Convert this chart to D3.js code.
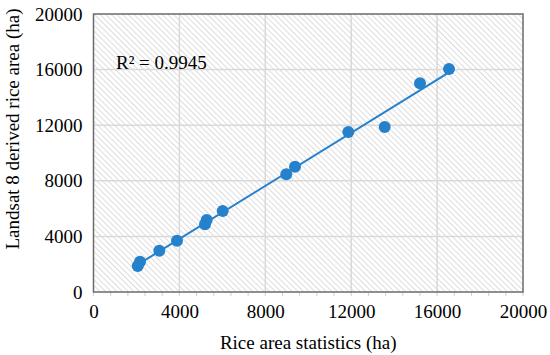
<!DOCTYPE html>
<html>
<head>
<meta charset="utf-8">
<script src="https://cdn.jsdelivr.net/npm/d3@7"></script>
<style>
  body { margin: 0; background: #fff; }
  svg text { font-family: "Liberation Serif", "Times New Roman", serif; fill: #000; }
</style>
</head>
<body>
<div id="main"></div>
<script>
// rice area statistics (ha) vs Landsat 8 derived rice area (ha)
const statArea = [2060, 2165, 3064, 3888, 5192, 5271, 6016, 8978, 9383, 11866, 13560, 15204, 16554];
const landsatArea = [1870, 2180, 2971, 3691, 4870, 5180, 5827, 8468, 9014, 11511, 11871, 15014, 16043];
const xTicks = [0, 4000, 8000, 12000, 16000, 20000];
const yTicks = [0, 4000, 8000, 12000, 16000, 20000];
const r2Label = "R² = 0.9945";

const width = 550;
const height = 355;
const margin = { top: 14, right: 27, bottom: 63, left: 93.5 };
const blue = "#2681cc";
const serif = "Liberation Serif, Times New Roman, serif";

const svg = d3.select("#main")
  .append("svg")
  .attr("width", width)
  .attr("height", height);

const x = d3.scaleLinear()
  .domain([0, 20000])
  .range([margin.left, width - margin.right]);

const y = d3.scaleLinear()
  .domain([0, 20000])
  .range([height - margin.bottom, margin.top]);

// hatch fill for the plot area
const pattern = svg.append("defs")
  .append("pattern")
  .attr("id", "hatch")
  .attr("patternUnits", "userSpaceOnUse")
  .attr("width", 4)
  .attr("height", 4)
  .attr("patternTransform", "rotate(-45)");

pattern.append("rect")
  .attr("width", 4)
  .attr("height", 4)
  .attr("fill", "#fff");

pattern.append("line")
  .attr("x1", 0).attr("y1", 0)
  .attr("x2", 0).attr("y2", 4)
  .attr("stroke", "#c6c6c6")
  .attr("stroke-width", 1.2);

svg.append("rect")
  .attr("x", x(0))
  .attr("y", y(20000))
  .attr("width", x(20000) - x(0))
  .attr("height", y(0) - y(20000))
  .attr("fill", "url(#hatch)");

// grid
svg.append("g")
  .selectAll("line")
  .data(xTicks.slice(1, -1))
  .enter()
  .append("line")
  .attr("x1", d => x(d)).attr("x2", d => x(d))
  .attr("y1", y(0)).attr("y2", y(20000))
  .attr("stroke", "#d9d9d9")
  .attr("stroke-width", 1.5);

svg.append("g")
  .selectAll("line")
  .data(yTicks.slice(1, -1))
  .enter()
  .append("line")
  .attr("x1", x(0)).attr("x2", x(20000))
  .attr("y1", d => y(d)).attr("y2", d => y(d))
  .attr("stroke", "#d9d9d9")
  .attr("stroke-width", 1.5);

// minor ticks below x axis
svg.append("g")
  .selectAll("line")
  .data(d3.range(0, 20001, 800))
  .enter()
  .append("line")
  .attr("x1", d => x(d)).attr("x2", d => x(d))
  .attr("y1", y(0)).attr("y2", y(0) + 4)
  .attr("stroke", "#d0d0d0");

// border
svg.append("rect")
  .attr("x", x(0))
  .attr("y", y(20000))
  .attr("width", x(20000) - x(0))
  .attr("height", y(0) - y(20000))
  .attr("fill", "none")
  .attr("stroke", "#6b6b6b")
  .attr("stroke-width", 1.5);

// axes labels
const xAxis = d3.axisBottom(x)
  .tickValues(xTicks)
  .tickSize(0)
  .tickPadding(13)
  .tickFormat(d3.format("d"));

const yAxis = d3.axisLeft(y)
  .tickValues(yTicks)
  .tickSize(0)
  .tickPadding(11)
  .tickFormat(d3.format("d"));

svg.append("g")
  .attr("transform", "translate(0," + y(0) + ")")
  .call(xAxis)
  .attr("font-family", serif)
  .attr("font-size", 19)
  .call(g => g.select(".domain").remove());

svg.append("g")
  .attr("transform", "translate(" + x(0) + ",0)")
  .call(yAxis)
  .attr("font-family", serif)
  .attr("font-size", 19)
  .call(g => g.select(".domain").remove());

svg.append("text")
  .attr("x", (x(0) + x(20000)) / 2)
  .attr("y", 349)
  .attr("text-anchor", "middle")
  .style("font-size", "19px")
  .text("Rice area statistics (ha)");

svg.append("text")
  .attr("transform", "translate(19," + 129 + ") rotate(-90)")
  .attr("text-anchor", "middle")
  .style("font-size", "19px")
  .text("Landsat 8 derived rice area (ha)");

// linear trend
const mx = d3.mean(statArea);
const my = d3.mean(landsatArea);
const slope = d3.sum(statArea, (v, i) => (v - mx) * (landsatArea[i] - my)) /
  d3.sum(statArea, v => (v - mx) * (v - mx));
const intercept = my - slope * mx;
const xExt = d3.extent(statArea);

svg.append("line")
  .attr("x1", x(xExt[0]))
  .attr("y1", y(slope * xExt[0] + intercept))
  .attr("x2", x(xExt[1]))
  .attr("y2", y(slope * xExt[1] + intercept))
  .attr("stroke", blue)
  .attr("stroke-width", 2);

svg.append("g")
  .selectAll("circle")
  .data(statArea)
  .enter()
  .append("circle")
  .attr("cx", d => x(d))
  .attr("cy", (d, i) => y(landsatArea[i]))
  .attr("r", 6)
  .attr("fill", blue);

svg.append("text")
  .attr("x", 116)
  .attr("y", 69)
  .style("font-size", "19px")
  .text(r2Label);
</script>
</body>
</html>
